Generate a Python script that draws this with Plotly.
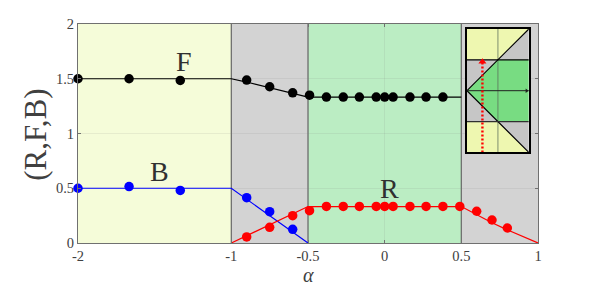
import plotly.graph_objects as go

FONT = "Liberation Serif"
TEXT = "#404040"

# Measured points
alpha_b = [-2, -1.667, -1.333, -0.9, -0.75, -0.6]
b_pts = [0.5, 0.515, 0.48, 0.414, 0.286, 0.125]
alpha_f = [-2, -1.667, -1.333, -0.9, -0.75, -0.6, -0.49, -0.38, -0.27, -0.165, -0.055, 0, 0.055, 0.165, 0.27, 0.38]
f_pts = [1.5, 1.5, 1.485, 1.488, 1.427, 1.372, 1.35, 1.333, 1.333, 1.333, 1.333, 1.333, 1.333, 1.333, 1.333, 1.333]
alpha_r = [-0.9, -0.75, -0.6, -0.49, -0.38, -0.27, -0.165, -0.055, 0, 0.055, 0.165, 0.27, 0.38, 0.49, 0.6, 0.7, 0.8]
r_pts = [0.055, 0.143, 0.25, 0.295, 0.334, 0.334, 0.334, 0.334, 0.334, 0.334, 0.334, 0.334, 0.334, 0.334, 0.29, 0.21, 0.137]

# Curves
curve_f_x = [-2, -1, -0.9, -0.75, -0.6, -0.5, 0.5]
curve_f_y = [1.5, 1.5, 1.47, 1.42, 1.37, 1.333, 1.333]
curve_b_x = [-2, -1, -0.5]
curve_b_y = [0.5, 0.5, 0]
curve_r_x = [-1, -0.5, 0.5, 0.6, 0.7, 0.8, 0.9, 1]
curve_r_y = [0, 0.333, 0.333, 0.26, 0.185, 0.12, 0.06, 0]

# Regions
regions = [(-2, -1, "#f5fcd9"), (-1, -0.5, "#d3d3d3"), (-0.5, 0.5, "#bbedc3"), (0.5, 1, "#d3d3d3")]
borders = [-1, -0.5, 0.5]
labels = [("F", -1.31, 1.655), ("B", -1.47, 0.654), ("R", 0.03, 0.5)]

# Inset
inset_yellow = [([0, 1, 2, 0, 0], [1, 1, 2, 2, 1]), ([0, 1, 2, 0, 0], [-1, -1, -2, -2, -1])]
inset_gray = [([0, 1, 0, 0], [0, 1, 1, 0]), ([1, 2, 2, 1], [1, 1, 2, 1]),
              ([0, 1, 0, 0], [0, -1, -1, 0]), ([1, 2, 2, 1], [-1, -1, -2, -1])]
inset_green = ([0, 1, 2, 2, 1, 0], [0, 1, 1, -1, -1, 0])
inset_diag_x = [2, 0, 2]
inset_diag_y = [2, 0, -2]
arrow_x = [0.5, 0.5]
arrow_y = [-2, 0.9]

fig = go.Figure()

fig.add_trace(go.Scatter(x=curve_f_x, y=curve_f_y, mode="lines", line=dict(color="black", width=1.2)))
fig.add_trace(go.Scatter(x=curve_b_x, y=curve_b_y, mode="lines", line=dict(color="#0000ff", width=1.2)))
fig.add_trace(go.Scatter(x=curve_r_x, y=curve_r_y, mode="lines", line=dict(color="#ff0000", width=1.2)))
fig.add_trace(go.Scatter(x=alpha_f, y=f_pts, mode="markers", marker=dict(color="black", size=9.5), cliponaxis=False))
fig.add_trace(go.Scatter(x=alpha_b, y=b_pts, mode="markers", marker=dict(color="#0000ff", size=9.5), cliponaxis=False))
fig.add_trace(go.Scatter(x=alpha_r, y=r_pts, mode="markers", marker=dict(color="#ff0000", size=9.5), cliponaxis=False))

def poly(xs, ys, col):
    fig.add_trace(go.Scatter(x=xs, y=ys, xaxis="x2", yaxis="y2", mode="lines", fill="toself",
                             fillcolor=col, line=dict(width=0), hoverinfo="skip"))

for xs, ys in inset_yellow:
    poly(xs, ys, "#eef7b0")
for xs, ys in inset_gray:
    poly(xs, ys, "#c6c6c6")
poly(inset_green[0], inset_green[1], "#78dc82")

def iline(xs, ys, col="black", w=1.5, dash="solid"):
    fig.add_trace(go.Scatter(x=xs, y=ys, xaxis="x2", yaxis="y2", mode="lines",
                             line=dict(color=col, width=w, dash=dash), hoverinfo="skip"))

iline([1, 1], [-2, 2], "rgba(90,110,90,0.5)", 1.5)
iline(inset_diag_x, inset_diag_y, "black", 1.2)
iline([0, 2], [1, 1], "black", 1.2)
iline([0, 2], [-1, -1], "#303030", 1.2)
iline([0, 2], [0, 0], "#202020", 1)
fig.add_trace(go.Scatter(x=arrow_x, y=arrow_y, xaxis="x2", yaxis="y2", mode="lines",
                         line=dict(color="#ff0000", width=2.4, dash="2px,2px"), hoverinfo="skip"))
fig.add_trace(go.Scatter(x=[0.5], y=[0.94], xaxis="x2", yaxis="y2", mode="markers",
                         marker=dict(symbol="triangle-up", color="#ff0000", size=7), hoverinfo="skip"))
fig.add_trace(go.Scatter(x=[1.93], y=[0], xaxis="x2", yaxis="y2", mode="markers",
                         marker=dict(symbol="triangle-right", color="#202020", size=4), hoverinfo="skip"))

shapes = []
for a, b, c in regions:
    shapes.append(dict(type="rect", xref="x", yref="y", x0=a, x1=b, y0=0, y1=2, fillcolor=c,
                       line=dict(width=0), layer="below"))
for v in borders:
    shapes.append(dict(type="line", xref="x", yref="y", x0=v, x1=v, y0=0, y1=2,
                       line=dict(color="#6e6e6e", width=1.3), layer="below"))

ann = [dict(text=t, x=x, y=y, xref="x", yref="y", showarrow=False, xanchor="center", yanchor="middle",
            font=dict(family=FONT, size=28, color="#303030")) for t, x, y in labels]
ann.append(dict(text="(R,F,B)", xref="paper", yref="paper", x=(35.5 - 77.5) / 461, y=(243.3 - 135) / 219,
                xanchor="center", yanchor="middle",
                textangle=-90, showarrow=False, font=dict(family=FONT, size=31, color=TEXT)))
ann.append(dict(text="<i>α</i>", xref="paper", yref="paper", x=(308 - 77.5) / 461, y=(243.3 - 275.5) / 219,
                xanchor="center", yanchor="middle",
                showarrow=False, font=dict(family=FONT, size=20, color=TEXT)))

fig.update_layout(
    width=587, height=279, showlegend=False, paper_bgcolor="white", plot_bgcolor="white",
    margin=dict(l=69.5, r=56.5, t=16.3, b=43.7, autoexpand=False),
    font=dict(family=FONT, color=TEXT, size=14.5),
    shapes=shapes, annotations=ann,
    xaxis=dict(range=[-2, 1], tickvals=[-2, -1, -0.5, 0, 0.5, 1], ticktext=["-2", "-1", "-0.5", "0", "0.5", "1"],
               showgrid=True, gridcolor="rgba(120,120,120,0.12)", zeroline=False, showline=True,
               linecolor="#707070", linewidth=1, mirror="allticks", ticks="inside", ticklen=3,
               tickcolor="#707070", automargin=False),
    yaxis=dict(range=[0, 2], tickvals=[0, 0.5, 1, 1.5, 2], ticktext=["0", "0.5", "1", "1.5", "2"],
               showgrid=True, gridcolor="rgba(120,120,120,0.12)", zeroline=False, showline=True,
               linecolor="#707070", linewidth=1, mirror="allticks", ticks="inside", ticklen=3,
               tickcolor="#707070", automargin=False),
    xaxis2=dict(domain=[(467.3 - 77.5) / 461, (529.3 - 77.5) / 461], range=[0, 2], anchor="y2", visible=True,
                showticklabels=False, ticks="", showgrid=False, zeroline=False, showline=True,
                linecolor="black", linewidth=1.5, mirror=True),
    yaxis2=dict(domain=[(243.3 - 152.7) / 219, (243.3 - 29.3) / 219], range=[-2, 2], anchor="x2", visible=True,
                showticklabels=False, ticks="", showgrid=False, zeroline=False, showline=True,
                linecolor="black", linewidth=1.5, mirror=True),
)
fig.write_html("out.html")
